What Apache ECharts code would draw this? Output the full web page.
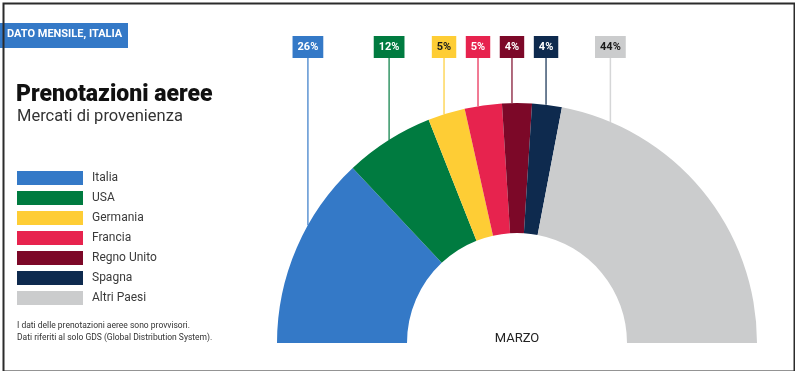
<!DOCTYPE html>
<html>
<head>
<meta charset="utf-8">
<script src="https://cdn.jsdelivr.net/npm/echarts@6/dist/echarts.min.js"></script>
<style>
html,body{margin:0;padding:0;background:#fff;}
#chart{width:795px;height:371px;}
</style>
</head>
<body>
<div id="chart"></div>
<script>
// ---- data ----
const categories = ['Italia', 'USA', 'Germania', 'Francia', 'Regno Unito', 'Spagna', 'Altri Paesi'];
const shares = [26, 12, 5, 5, 4, 4, 44];
const periodLabel = 'MARZO';

// ---- style ----
const colors = ['#3479c7', '#007b40', '#fecd35', '#e7234e', '#7c0828', '#0e2a4e', '#cbcccd'];
const labelTextColors = ['#fff', '#fff', '#1a1a1a', '#fff', '#fff', '#fff', '#1a1a1a'];
const anchorShiftDeg = [-6, -0.2, 0.6, 1.25, 1.2, 0.25, 27.5];
const CX = 517, CY = 343, R0 = 110, R = 240;
const LABEL_TOP = 36, LABEL_BOTTOM = 58;
const FONT = "Roboto, 'Noto Sans', sans-serif";

const chart = echarts.init(document.getElementById('chart'), null, {renderer: 'canvas'});

const pieData = categories.map((name, i) => ({
  name: name,
  value: shares[i],
  itemStyle: {color: colors[i]},
  label: {color: labelTextColors[i], backgroundColor: colors[i]},
  labelLine: {lineStyle: {color: colors[i]}}
}));

const option = {
  backgroundColor: '#fff',
  animation: false,
  legend: {
    orient: 'vertical',
    left: 17,
    top: 171,
    padding: 0,
    itemWidth: 66,
    itemHeight: 14,
    itemGap: 6,
    icon: 'rect',
    selectedMode: false,
    textStyle: {fontFamily: FONT, fontSize: 12, color: '#3a3a3a', padding: [0, 0, 0, 4]},
    data: categories
  },
  graphic: [
    {type: 'rect', left: 1, top: 1, shape: {width: 791, height: 368}, style: {fill: 'none', stroke: '#2b2b2b', lineWidth: 2}, z: 100},
    {type: 'rect', left: 0, top: 23, shape: {width: 128, height: 25}, style: {fill: '#3479c7'}},
    {type: 'text', left: 7, top: 29, style: {text: 'DATO MENSILE, ITALIA', fill: '#fff', font: "bold 11px " + FONT}},
    {type: 'text', left: 16, top: 84, style: {text: 'Prenotazioni aeree', fill: '#111', font: "900 23px " + FONT}},
    {type: 'text', left: 17, top: 108, style: {text: 'Mercati di provenienza', fill: '#333', font: "16.5px " + FONT}},
    {type: 'text', left: 17, top: 320, style: {text: 'I dati delle prenotazioni aeree sono provvisori.\nDati riferiti al solo GDS (Global Distribution System).', fill: '#333', font: "8.5px " + FONT, lineHeight: 12}},
    {type: 'text', x: CX, y: 339, style: {text: periodLabel, fill: '#222', font: "13px " + FONT, align: 'center', verticalAlign: 'middle'}, z: 10}
  ],
  series: [{
    type: 'pie',
    center: [CX, CY],
    radius: [R0, R],
    startAngle: 180,
    endAngle: 360,
    avoidLabelOverlap: false,
    silent: true,
    label: {
      show: true,
      position: 'outside',
      formatter: '{c}%',
      fontFamily: FONT,
      fontWeight: 'bold',
      fontSize: 11,
      lineHeight: 12,
      padding: [5, 5]
    },
    labelLine: {show: true, length: 10, length2: 10, lineStyle: {width: 1.5, opacity: 0.8}},
    labelLayout: function (params) {
      const pts = params.labelLinePoints;
      if (!pts) return {};
      const ax = pts[0][0], ay = pts[0][1];
      let ang = Math.atan2(CY - ay, ax - CX) + anchorShiftDeg[params.dataIndex] * Math.PI / 180;
      const x = CX + R * Math.cos(ang);
      const y = CY - R * Math.sin(ang);
      return {
        x: x,
        y: LABEL_TOP,
        align: 'center',
        verticalAlign: 'top',
        labelLinePoints: [[x, y], [x, LABEL_BOTTOM], [x, LABEL_BOTTOM]]
      };
    },
    data: pieData
  }]
};
chart.setOption(option);
</script>
</body>
</html>
